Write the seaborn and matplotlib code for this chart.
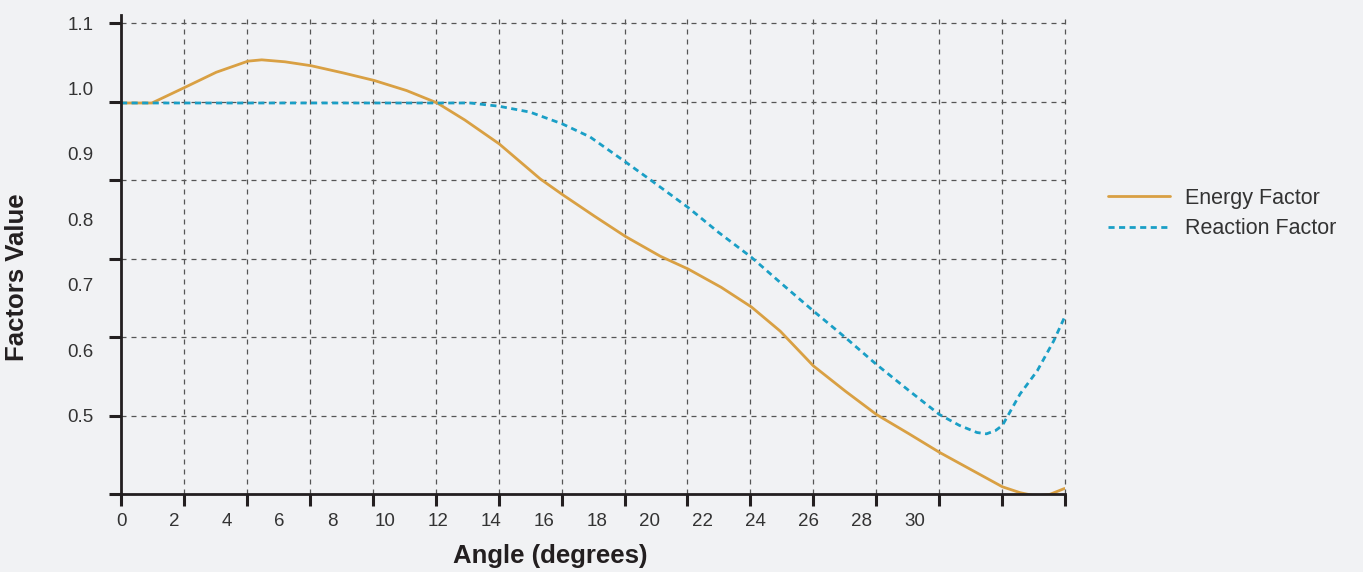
import matplotlib
matplotlib.use("Agg")
import matplotlib.pyplot as plt
import numpy as np
import pandas as pd
import seaborn as sns
from matplotlib.lines import Line2D

# data (angle in degrees, factor value)
energy_angle = [0, 1.17, 2.42, 3.6, 4.8, 5.32, 6.2, 7.19, 8.4, 9.57, 10.8, 11.96,
                13.0, 14.3, 15.85, 16.69, 17.9, 19.07, 20.4, 21.45, 22.7, 23.84,
                24.93, 26.18, 27.4, 28.57, 29.8, 30.95, 32.2, 33.33, 34.0, 34.58,
                35.1, 35.68]
energy_value = [0.978, 0.978, 1.002, 1.025, 1.042, 1.044, 1.041, 1.035, 1.024,
                1.0125, 0.997, 0.978, 0.952, 0.9155, 0.862, 0.838, 0.805, 0.774,
                0.7435, 0.724, 0.696, 0.666, 0.629, 0.576, 0.537, 0.5015, 0.472,
                0.4437, 0.416, 0.391, 0.382, 0.377, 0.379, 0.3884]

reaction_angle = [0, 13.2, 14.3, 15.47, 16.69, 17.74, 19.07, 20.0, 21.45, 22.6,
                  23.84, 25.0, 26.18, 27.4, 28.57, 29.8, 30.95, 31.7, 32.37,
                  32.73, 33.07, 33.33, 34.0, 34.65, 35.27, 35.7]
reaction_value = [0.978, 0.978, 0.973, 0.964, 0.946, 0.926, 0.888, 0.861, 0.818,
                  0.78, 0.742, 0.701, 0.66, 0.619, 0.578, 0.538, 0.5015, 0.485,
                  0.474, 0.472, 0.477, 0.4848, 0.533, 0.5685, 0.614, 0.652]

x_labels = list(range(0, 31, 2))
y_labels = [0.5, 0.6, 0.7, 0.8, 0.9, 1.0, 1.1]

df = pd.concat([
    pd.DataFrame({"angle": energy_angle, "value": energy_value, "series": "Energy Factor"}),
    pd.DataFrame({"angle": reaction_angle, "value": reaction_value, "series": "Reaction Factor"}),
])

bg = "#F1F2F4"
ink = "#231F20"
colors = {"Energy Factor": "#D9A043", "Reaction Factor": "#1A9FC6"}
dots = (2.2, 1.6)

sns.set_style("white")
plt.rcParams["font.family"] = ["Liberation Sans", "DejaVu Sans"]

fig = plt.figure(figsize=(13.63, 5.72), dpi=100, facecolor=bg)
ax = fig.add_axes([0.0888, 0.1364, 0.6926, 0.8374])
ax.set_facecolor(bg)

sns.lineplot(data=df, x="angle", y="value", hue="series", style="series",
             palette=colors, dashes={"Energy Factor": "", "Reaction Factor": dots},
             linewidth=2.0, ax=ax, legend=False, sort=False)

xmax = 35.7
ax.set_xlim(0, xmax)
ax.set_ylim(0.38, 1.1126)

# grid / tick marks sit on their own spacing, labels on another
ax.set_xticks(np.linspace(0, xmax, 16))
ax.set_xticklabels([])
ax.set_yticks(np.round(np.arange(0.38, 1.11, 0.12), 2))
ax.set_yticklabels([])
ax.set_xticks(x_labels, minor=True)
ax.set_xticklabels([str(v) for v in x_labels], minor=True)
ax.set_yticks(y_labels, minor=True)
ax.set_yticklabels([f"{v:.1f}" for v in y_labels], minor=True)
ax.xaxis.remove_overlapping_locs = False
ax.yaxis.remove_overlapping_locs = False

ax.tick_params(which="major", bottom=True, left=True, direction="out",
               length=8.5, width=2.2, color=ink)
ax.tick_params(which="minor", bottom=True, left=True, length=0,
               labelsize=13.5, labelcolor="#333333")
ax.tick_params(axis="x", which="minor", pad=14)
ax.tick_params(axis="y", which="minor", pad=20)

ax.grid(True, which="major", color="#555555", linestyle=(0, (4, 4)), linewidth=0.9)
ax.set_axisbelow(True)
for gl in ax.get_xgridlines() + ax.get_ygridlines():
    gl.set_clip_on(False)

sns.despine(ax=ax)
for side in ["left", "bottom"]:
    ax.spines[side].set_color(ink)
    ax.spines[side].set_linewidth(2.0)
    ax.spines[side].set_zorder(3)

ax.set_xlabel("Angle (degrees)", fontsize=18.5, fontweight="heavy", color=ink)
ax.set_ylabel("Factors Value", fontsize=18.5, fontweight="heavy", color=ink)
ax.xaxis.set_label_coords(0.4545, -0.104)
ax.yaxis.set_label_coords(-0.0975, 0.453)

handles = [
    Line2D([], [], color=colors["Energy Factor"], linewidth=2.0),
    Line2D([], [], color=colors["Reaction Factor"], linewidth=2.0,
           linestyle=(0, (dots[0], dots[1]))),
]
fig.legend(handles, ["Energy Factor", "Reaction Factor"], loc="center left",
           bbox_to_anchor=(0.8129, 0.6267), frameon=False, fontsize=15.5,
           handlelength=2.9, handletextpad=0.7, labelspacing=0.45,
           borderpad=0, borderaxespad=0, labelcolor="#333333")

fig.savefig("out.png", dpi=100, facecolor=bg)
